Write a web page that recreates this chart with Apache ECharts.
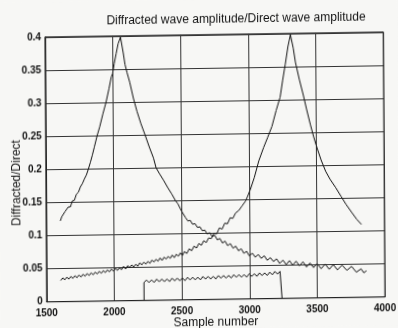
<!DOCTYPE html>
<html>
<head>
<meta charset="utf-8">
<script src="https://cdn.jsdelivr.net/npm/echarts@6/dist/echarts.min.js"></script>
<style>
  html, body { margin: 0; padding: 0; background: #f7f7f5; }
  /* the scanned page sits slightly skewed */
  #chart { width: 398px; height: 328px; transform: matrix(1, -0.0147, 0.0064, 1, 0, 0); }
</style>
</head>
<body>
<div id="chart"></div>
<script>
const xTicks = [1500, 2000, 2500, 3000, 3500, 4000]
const yTicks = [0, 0.05, 0.1, 0.15, 0.2, 0.25, 0.3, 0.35, 0.4]

// early peak: diffracted/direct for the first diffractor
const firstPeak = [
  [1605, 0.122], [1615, 0.128], [1625, 0.127], [1640, 0.136], [1650, 0.134],
  [1665, 0.143], [1680, 0.143], [1695, 0.152], [1710, 0.153], [1725, 0.162],
  [1740, 0.165], [1755, 0.173], [1770, 0.178], [1785, 0.185], [1800, 0.191],
  [1815, 0.200], [1830, 0.210], [1845, 0.221], [1860, 0.233], [1881, 0.250],
  [1900, 0.263], [1925, 0.283], [1948, 0.300], [1970, 0.320], [1988, 0.338],
  [1998, 0.343], [2010, 0.358], [2025, 0.373], [2040, 0.388], [2058, 0.398],
  [2066, 0.395], [2078, 0.374], [2090, 0.357], [2104, 0.345], [2124, 0.330],
  [2150, 0.306], [2176, 0.286], [2205, 0.267], [2235, 0.250], [2265, 0.232],
  [2296, 0.215], [2315, 0.200], [2340, 0.191], [2370, 0.181], [2400, 0.170],
  [2430, 0.160], [2457, 0.150], [2475, 0.145], [2494, 0.137], [2510, 0.131],
  [2531, 0.124], [2548, 0.119], [2565, 0.120], [2582, 0.114], [2600, 0.115],
  [2618, 0.109], [2636, 0.110], [2654, 0.104], [2672, 0.105], [2690, 0.099],
  [2708, 0.101], [2726, 0.095], [2745, 0.097], [2764, 0.090], [2783, 0.092],
  [2802, 0.085], [2821, 0.088], [2840, 0.081], [2860, 0.084], [2880, 0.077],
  [2900, 0.080], [2920, 0.073], [2940, 0.076], [2960, 0.069], [2980, 0.072],
  [3000, 0.065], [3022, 0.069], [3044, 0.063], [3066, 0.067], [3088, 0.061],
  [3110, 0.065], [3132, 0.058], [3155, 0.062], [3178, 0.056], [3201, 0.060],
  [3224, 0.053], [3248, 0.058], [3272, 0.051], [3296, 0.057], [3320, 0.050],
  [3345, 0.056], [3370, 0.049], [3396, 0.055], [3422, 0.047], [3448, 0.053],
  [3474, 0.046], [3500, 0.052], [3530, 0.044], [3560, 0.051], [3590, 0.043],
  [3620, 0.050], [3650, 0.042], [3685, 0.049], [3720, 0.041], [3755, 0.047],
  [3790, 0.038], [3825, 0.043], [3845, 0.037], [3865, 0.040]
]

// late peak: diffracted/direct for the second diffractor
const secondPeak = [
  [1605, 0.032], [1620, 0.036], [1635, 0.033], [1650, 0.037], [1665, 0.034],
  [1680, 0.038], [1695, 0.035], [1710, 0.039], [1725, 0.036], [1740, 0.040],
  [1755, 0.037], [1770, 0.041], [1785, 0.038], [1800, 0.042], [1815, 0.039],
  [1830, 0.043], [1845, 0.040], [1860, 0.044], [1875, 0.041], [1890, 0.045],
  [1905, 0.042], [1920, 0.046], [1935, 0.043], [1950, 0.047], [1965, 0.044],
  [1980, 0.048], [1995, 0.045], [2010, 0.049], [2025, 0.046], [2040, 0.050],
  [2055, 0.047], [2070, 0.052], [2085, 0.048], [2100, 0.053], [2115, 0.050],
  [2130, 0.054], [2145, 0.051], [2160, 0.055], [2175, 0.052], [2190, 0.057],
  [2205, 0.054], [2220, 0.058], [2235, 0.055], [2250, 0.059], [2265, 0.056],
  [2280, 0.061], [2295, 0.058], [2310, 0.062], [2325, 0.059], [2340, 0.064],
  [2355, 0.060], [2370, 0.065], [2385, 0.062], [2400, 0.066], [2415, 0.063],
  [2430, 0.068], [2445, 0.064], [2460, 0.069], [2475, 0.066], [2490, 0.071],
  [2505, 0.067], [2520, 0.073], [2538, 0.070], [2556, 0.077], [2574, 0.074],
  [2592, 0.081], [2610, 0.078], [2628, 0.085], [2646, 0.082], [2664, 0.089],
  [2682, 0.086], [2700, 0.093], [2720, 0.092], [2740, 0.100], [2760, 0.099],
  [2780, 0.108], [2800, 0.106], [2820, 0.115], [2840, 0.114], [2860, 0.123],
  [2880, 0.122], [2900, 0.130], [2925, 0.134], [2950, 0.141], [2975, 0.148],
  [2990, 0.155], [3010, 0.165], [3040, 0.183], [3074, 0.208], [3110, 0.228],
  [3140, 0.243], [3173, 0.260], [3205, 0.284], [3235, 0.304], [3255, 0.330],
  [3275, 0.354], [3295, 0.380], [3314, 0.398], [3334, 0.378], [3350, 0.356],
  [3378, 0.330], [3407, 0.306], [3430, 0.285], [3457, 0.262], [3480, 0.244],
  [3506, 0.226], [3535, 0.208], [3568, 0.191], [3600, 0.179], [3642, 0.166],
  [3680, 0.153], [3716, 0.141], [3760, 0.128], [3795, 0.118], [3830, 0.110]
]

// direct-arrival window between the two events
const windowTrace = [
  [2220, 0], [2220, 0.027], [2238, 0.031], [2257, 0.027], [2276, 0.031],
  [2295, 0.027], [2314, 0.032], [2333, 0.028], [2352, 0.032], [2371, 0.028],
  [2390, 0.032], [2409, 0.028], [2428, 0.033], [2447, 0.029], [2466, 0.033],
  [2485, 0.029], [2504, 0.033], [2523, 0.029], [2542, 0.034], [2561, 0.030],
  [2580, 0.034], [2599, 0.030], [2618, 0.034], [2637, 0.030], [2656, 0.035],
  [2675, 0.031], [2694, 0.035], [2713, 0.031], [2732, 0.035], [2751, 0.031],
  [2770, 0.036], [2789, 0.032], [2808, 0.036], [2827, 0.032], [2846, 0.036],
  [2865, 0.032], [2884, 0.037], [2903, 0.033], [2922, 0.037], [2941, 0.033],
  [2960, 0.037], [2979, 0.033], [2998, 0.038], [3017, 0.034], [3036, 0.038],
  [3055, 0.034], [3074, 0.039], [3093, 0.035], [3112, 0.039], [3131, 0.035],
  [3150, 0.040], [3169, 0.036], [3188, 0.041], [3207, 0.037], [3226, 0.041],
  [3240, 0.040], [3240, 0]
]

const chart = echarts.init(document.getElementById("chart"))

const lineSeries = (name, data) => ({
  name,
  type: "line",
  data,
  showSymbol: false,
  smooth: false,
  lineStyle: { color: "#111", width: 1 },
  z: 3,
})

const axisText = { color: "#111", fontFamily: "Liberation Sans", fontSize: 10, fontWeight: "bold" }

chart.setOption({
  backgroundColor: "#f7f7f5",
  animation: false,
  title: {
    text: "Diffracted wave amplitude/Direct wave amplitude",
    left: 232,
    top: 9,
    textAlign: "center",
    textStyle: { color: "#111", fontFamily: "Liberation Sans", fontSize: 12, fontWeight: "normal" },
  },
  grid: {
    left: 45.8,
    right: 13.9,
    top: 34.75,
    bottom: 28.3,
    outerBoundsMode: "none",
    show: true,
    borderColor: "#222",
    borderWidth: 1,
    backgroundColor: "transparent",
  },
  xAxis: {
    type: "value",
    min: xTicks[0],
    max: xTicks[xTicks.length - 1],
    interval: xTicks[1] - xTicks[0],
    name: "Sample number",
    nameLocation: "middle",
    nameGap: 17,
    nameMoveOverlap: false,
    nameTextStyle: { color: "#111", fontFamily: "Liberation Sans", fontSize: 12 },
    axisLine: { show: true, lineStyle: { color: "#222" } },
    axisTick: { show: false },
    axisLabel: { ...axisText, margin: 7, formatter: (v) => String(v) },
    splitLine: { show: true, lineStyle: { color: "#333", width: 1 } },
  },
  yAxis: {
    type: "value",
    min: yTicks[0],
    max: yTicks[yTicks.length - 1],
    interval: yTicks[1] - yTicks[0],
    name: "Diffracted/Direct",
    nameLocation: "middle",
    nameGap: 23,
    nameMoveOverlap: false,
    nameRotate: 90,
    nameTextStyle: { color: "#111", fontFamily: "Liberation Sans", fontSize: 12, padding: [0, 26, 0, 0] },
    axisLine: { show: true, lineStyle: { color: "#222" } },
    axisTick: { show: false },
    axisLabel: { ...axisText, margin: 4, formatter: (v) => String(+v.toFixed(2)) },
    splitLine: { show: true, lineStyle: { color: "#333", width: 1 } },
  },
  series: [
    lineSeries("First", firstPeak),
    lineSeries("Second", secondPeak),
    lineSeries("Window", windowTrace),
  ],
})
</script>
</body>
</html>
